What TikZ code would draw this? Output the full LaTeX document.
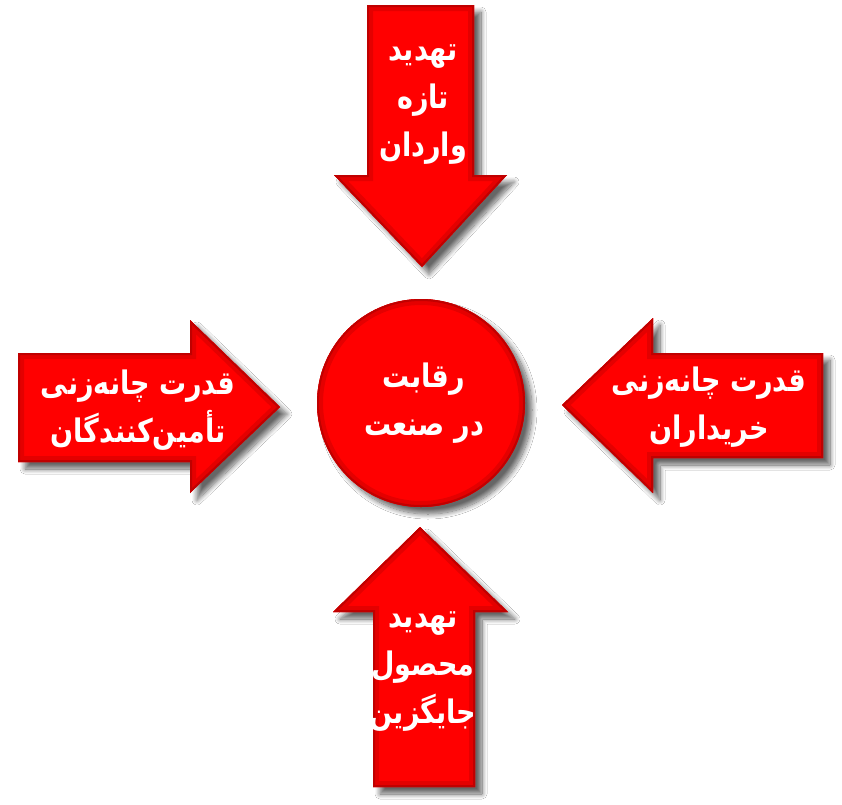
\documentclass[tikz,border=0pt]{standalone}
\usepackage{fontspec}
\usetikzlibrary{shadows.blur}
\TeXXeTstate=1
\newfontfamily\arabicfont[Script=Arabic]{DejaVu Sans}
\definecolor{rd}{HTML}{FF0000}
\definecolor{rddark}{HTML}{C00000}
\definecolor{rdmid}{HTML}{E40000}
\tikzset{
  shapefill/.style={fill=rd, blur shadow={shadow xshift=7pt, shadow yshift=-7pt, shadow blur steps=12, shadow blur radius=5pt, shadow opacity=60}},
  bevelwide/.style={draw=rdmid, line width=12pt, line join=miter},
  bevel/.style={draw=rddark, line width=4pt, line join=miter},
  lbl/.style={text=white, font=\arabicfont\bfseries\fontsize{27}{40}\selectfont, align=center, inner sep=0pt}
}
\newcommand{\bevelshape}[1]{%
  \path[shapefill] #1;
  \begin{scope}
    \clip #1;
    \draw[bevelwide] #1;
    \draw[bevel] #1;
  \end{scope}
}
\newcommand{\tall}[1]{\scalebox{1}[1.2]{#1}}
\begin{document}
\begin{tikzpicture}[x=1pt,y=-1pt]
\useasboundingbox (0,0) rectangle (842,804);
\fill[white] (0,0) rectangle (842,804);
% top arrow
\bevelshape{(367,5) -- (474,5) -- (474,175) -- (507,175) -- (422,267) -- (334,175) -- (367,175) -- cycle}
% left arrow
\bevelshape{(18,353) -- (190,353) -- (190,320) -- (280,407) -- (190,493) -- (190,462) -- (18,462) -- cycle}
% right arrow
\bevelshape{(823,353) -- (653,353) -- (653,318) -- (562,405) -- (653,493) -- (653,458) -- (823,458) -- cycle}
% bottom arrow
\bevelshape{(420,527) -- (508,612) -- (475,612) -- (475,787) -- (373,787) -- (373,612) -- (333,612) -- cycle}
% circle
\bevelshape{(421,403) circle[radius=104]}
% labels
\node[lbl] (top) at (423,99) {\tall{\begin{tabular}{@{}c@{}}\beginR تهدید\endR\\ \beginR تازه\endR\\ \beginR واردان\endR\end{tabular}}};
\node[lbl] (left) at (138,409) {\tall{\begin{tabular}{@{}c@{}}\beginR قدرت چانه‌زنی\endR\\ \beginR تأمین‌کنندگان\endR\end{tabular}}};
\node[lbl] (right) at (709,406) {\tall{\begin{tabular}{@{}c@{}}\beginR قدرت چانه‌زنی\endR\\ \beginR خریداران\endR\end{tabular}}};
\node[lbl] (bottom) at (423,666) {\tall{\begin{tabular}{@{}c@{}}\beginR تهدید\endR\\ \beginR محصول\endR\\ \beginR جایگزین\endR\end{tabular}}};
\node[lbl] (center) at (424,402) {\tall{\begin{tabular}{@{}c@{}}\beginR رقابت\endR\\ \beginR در صنعت\endR\end{tabular}}};
\end{tikzpicture}
\end{document}
